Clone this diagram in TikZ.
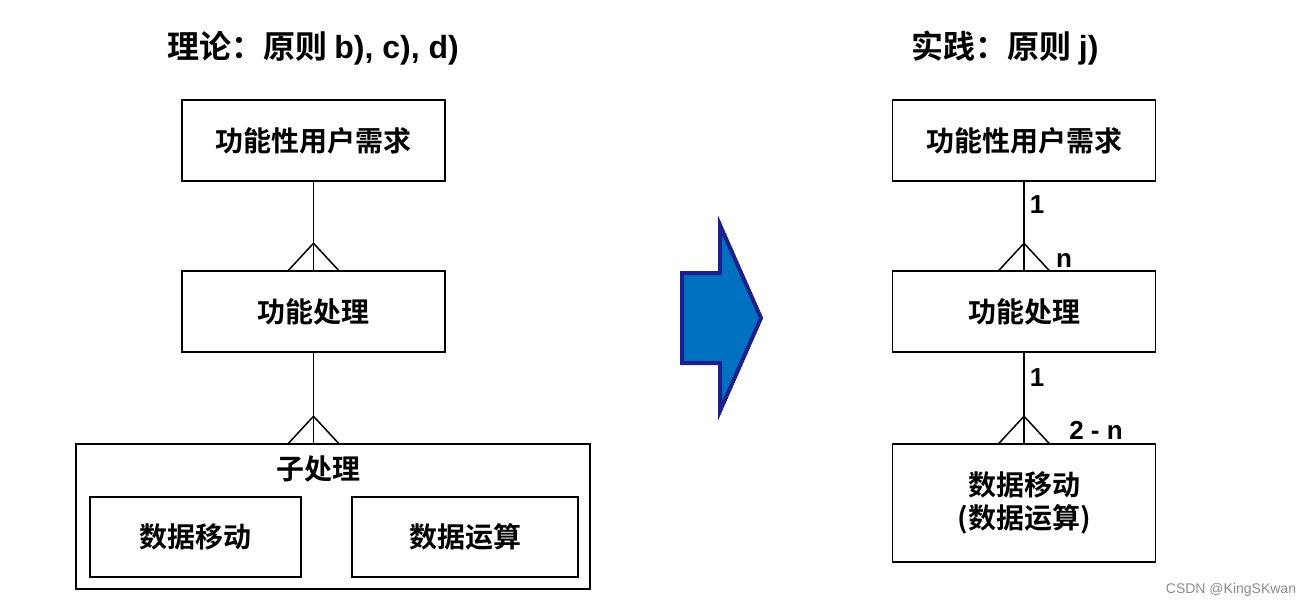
\documentclass[tikz,border=0pt]{standalone}
\usepackage{fontspec}
\setmainfont{Liberation Sans}[BoldFont={Liberation Sans Bold}]
\newfontfamily\cjk{Noto Sans CJK SC}[BoldFont={Noto Sans CJK SC Bold}]
\usetikzlibrary{positioning,calc}

\begin{document}
\begin{tikzpicture}[
  x=0.5pt, y=-0.5pt,
  font=\cjk\bfseries\fontsize{14}{16.5}\selectfont,
  box/.style={draw, line width=0.75pt, align=center, minimum width=131.5pt, minimum height=40.5pt, inner sep=0pt},
  inbox/.style={draw, line width=0.75pt, align=center, minimum height=40pt, inner sep=0pt},
  conn/.style={line width=0.75pt},
  card/.style={font=\bfseries\fontsize{13}{15}\selectfont, inner sep=0pt},
  title/.style={font=\cjk\bfseries\fontsize{16}{18}\selectfont}
]
\useasboundingbox (0,0) rectangle (1310,607);

% left side: theory
\node[title] (ltitle) at (313,48) {理论：原则 {\fontspec{Liberation Sans Bold}b), c), d)}};
\node[box] (lreq) at (313.5,140.5) {功能性用户需求};
\node[box] (lproc) at (313.5,311.5) {功能处理};
\node[draw, line width=0.75pt, minimum width=257pt, minimum height=72.5pt, inner sep=0pt] (lsub) at (333,516.5) {};
\node (lsubt) at (318,469) {子处理};
\node[inbox, minimum width=105.5pt] (lmove) at (195.5,537) {数据移动};
\node[inbox, minimum width=113pt] (lcalc) at (465,537) {数据运算};

\draw[conn] (lreq) -- (lproc);
\draw[conn] (lproc.south) -- (lproc.south |- lsub.north);

% the arrow
\draw[line width=2pt, draw={rgb,255:red,31;green,31;blue,140}, fill={rgb,255:red,0;green,112;blue,192}, line join=miter]
  (682,273) -- (720,273) -- (720,225) -- (761,318) -- (720,411) -- (720,363) -- (682,363) -- cycle;

% right side: practice
\node[title] (rtitle) at (1005,48) {实践：原则 {\fontspec{Liberation Sans Bold}j)}};
\node[box] (rreq) at (1024,140.5) {功能性用户需求};
\node[box] (rproc) at (1024,311.5) {功能处理};
\node[box, minimum height=59pt] (rdata) at (1024,503) {数据移动\\(数据运算)};

\draw[conn] (rreq) -- (rproc);
\draw[conn] (rproc) -- (rdata);

% crow's feet
\foreach \n/\m in {lproc/lproc.north, lsub/lproc.south |- lsub.north, rproc/rproc.north, rdata/rdata.north} {
  \draw[conn] ($(\m)+(-25,0)$) -- ($(\m)+(0,-27)$) -- ($(\m)+(25,0)$);
}

% multiplicities
\node[card] (m1) at (1037,205) {1};
\node[card] (m2) at (1064,260) {n};
\node[card] (m3) at (1037,378) {1};
\node[card] (m4) at (1096,430) {2 - n};

\node[font=\fontsize{7}{8}\selectfont, text=black!45] (mark) at (1231,590) {CSDN @KingSKwan};
\end{tikzpicture}
\end{document}
